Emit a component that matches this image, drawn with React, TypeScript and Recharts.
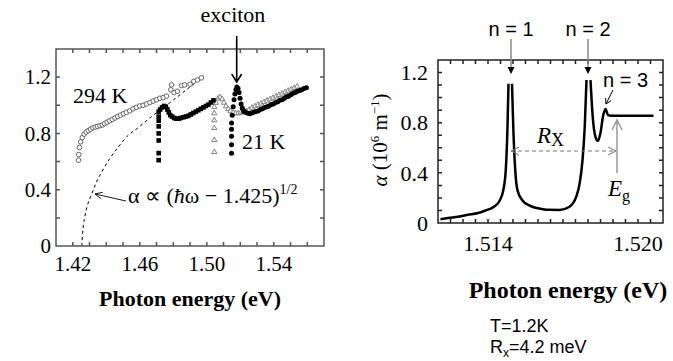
import React from 'react';
import { ComposedChart, LineChart, Line, Scatter, XAxis, YAxis } from 'recharts';

const serif = '"Liberation Serif", "Times New Roman", serif';
const sans = '"Liberation Sans", Arial, sans-serif';

// left panel: absorption of GaAs at several temperatures
const e294 = [1.4234, 1.4236, 1.424, 1.4247, 1.4257, 1.4268, 1.428, 1.4293, 1.4306, 1.432, 1.4334, 1.4348, 1.4362, 1.4376, 1.439, 1.4405, 1.442, 1.4436, 1.4452, 1.4468, 1.4485, 1.4502, 1.452, 1.454, 1.456, 1.458, 1.46, 1.462, 1.464, 1.466, 1.468, 1.47, 1.472, 1.474, 1.476, 1.4785, 1.479, 1.4805, 1.4825, 1.485, 1.4868, 1.49, 1.4922, 1.4945, 1.4968];
const a294 = [0.61, 0.65, 0.7, 0.74, 0.77, 0.795, 0.81, 0.82, 0.83, 0.84, 0.845, 0.85, 0.855, 0.86, 0.87, 0.88, 0.89, 0.9, 0.91, 0.92, 0.93, 0.94, 0.95, 0.96, 0.975, 0.985, 0.995, 1.0, 1.01, 1.02, 1.03, 1.04, 1.05, 1.055, 1.065, 1.11, 1.145, 1.09, 1.1, 1.14, 1.145, 1.15, 1.17, 1.18, 1.195];

const eSq = [1.4713, 1.4713, 1.4713, 1.4713, 1.4713, 1.4713, 1.4713, 1.4713, 1.4722, 1.4733, 1.4745, 1.4756, 1.4765, 1.4773, 1.4782, 1.4793, 1.4805, 1.4818, 1.4832, 1.4846, 1.486, 1.4875, 1.489, 1.4905, 1.492, 1.4935, 1.495, 1.4965, 1.498, 1.4995, 1.501, 1.5025, 1.504];
const aSq = [0.61, 0.66, 0.75, 0.8, 0.85, 0.89, 0.92, 0.955, 0.97, 0.985, 0.995, 0.99, 0.97, 0.95, 0.93, 0.92, 0.91, 0.905, 0.905, 0.91, 0.915, 0.92, 0.925, 0.935, 0.945, 0.955, 0.965, 0.975, 0.985, 0.995, 1.005, 1.02, 1.035];

const eTri = [1.5045, 1.5045, 1.5045, 1.5045, 1.5045, 1.5045, 1.5055, 1.5068, 1.508, 1.5092, 1.5103, 1.5115, 1.5128, 1.5142, 1.5157, 1.5172, 1.5188, 1.5203, 1.5218, 1.5235, 1.5252, 1.527, 1.5288, 1.5306, 1.5324, 1.5342, 1.536, 1.5378, 1.5396, 1.5414, 1.5432, 1.545, 1.5468, 1.5486, 1.5504, 1.5522, 1.554];
const aTri = [0.67, 0.755, 0.84, 0.895, 0.945, 0.99, 1.02, 1.05, 1.06, 1.045, 1.02, 0.995, 0.975, 0.96, 0.95, 0.945, 0.945, 0.95, 0.955, 0.96, 0.97, 0.985, 0.995, 1.005, 1.015, 1.025, 1.035, 1.045, 1.055, 1.065, 1.075, 1.085, 1.095, 1.105, 1.115, 1.125, 1.135];

const e21 = [1.5148, 1.5148, 1.5148, 1.5148, 1.5148, 1.5152, 1.5158, 1.5163, 1.5168, 1.5174, 1.518, 1.5187, 1.5193, 1.5199, 1.5205, 1.5212, 1.522, 1.523, 1.5242, 1.5255, 1.5268, 1.5281, 1.5294, 1.5307, 1.532, 1.5333, 1.5346, 1.5359, 1.5372, 1.5385, 1.5398, 1.5411, 1.5424, 1.5437, 1.545, 1.5463, 1.5476, 1.5489, 1.5502, 1.5515, 1.5528, 1.5541, 1.5554, 1.5567, 1.558, 1.5595];
const a21 = [0.66, 0.72, 0.78, 0.83, 0.875, 0.93, 0.99, 1.04, 1.08, 1.11, 1.13, 1.12, 1.09, 1.05, 1.01, 0.98, 0.96, 0.95, 0.945, 0.94, 0.945, 0.95, 0.955, 0.96, 0.97, 0.975, 0.985, 0.99, 0.995, 1.005, 1.01, 1.02, 1.025, 1.035, 1.04, 1.05, 1.06, 1.065, 1.075, 1.085, 1.09, 1.1, 1.105, 1.11, 1.12, 1.125];

// dashed square-root edge
const eFit = [1.4254, 1.4258, 1.4264, 1.4274, 1.4288, 1.431, 1.434, 1.4375, 1.442, 1.447, 1.4525, 1.459, 1.466, 1.4725, 1.4825, 1.491, 1.4985];
const aFit = [0, 0.08, 0.15, 0.22, 0.29, 0.36, 0.45, 0.53, 0.62, 0.7, 0.78, 0.84, 0.91, 0.97, 1.06, 1.14, 1.21];

const leftXTicks = [1.41, 1.42, 1.43, 1.44, 1.45, 1.46, 1.47, 1.48, 1.49, 1.5, 1.51, 1.52, 1.53, 1.54, 1.55, 1.56, 1.57];
const leftXLabels = [1.42, 1.46, 1.5, 1.54];
const leftYTicks = [0, 0.2, 0.4, 0.6, 0.8, 1.0, 1.2, 1.4];
const leftYLabels = [0, 0.4, 0.8, 1.2];

// right panel: T = 1.2 K exciton lines (null = off-scale peak top)
const eHi = [1.5121, 1.5124, 1.5128, 1.5132, 1.5136, 1.5139, 1.51424, 1.51447, 1.51461, 1.51471, 1.51478, 1.51482, 1.51489, 1.51496, 1.51501, 1.51509, 1.51518, 1.51538, 1.51565, 1.51619, 1.51646, 1.51686, 1.51726, 1.51753, 1.51767, 1.51778, 1.51787, 1.51794, 1.51802, 1.5181, 1.5182, 1.51831, 1.5184, 1.5185, 1.5186, 1.5187, 1.5188, 1.51894, 1.5195, 1.52, 1.52062];
const aHi = [0.03, 0.04, 0.05, 0.065, 0.08, 0.1, 0.13, 0.18, 0.26, 0.42, 0.77, 1.11, null, 1.11, 0.77, 0.42, 0.26, 0.18, 0.14, 0.11, 0.105, 0.104, 0.13, 0.21, 0.32, 0.5, 0.77, 1.14, null, 1.14, 0.82, 0.68, 0.655, 0.72, 0.85, 0.91, 0.86, 0.856, 0.855, 0.855, 0.855];

const rightXTicks = [1.512, 1.5125, 1.513, 1.5135, 1.514, 1.5145, 1.515, 1.5155, 1.516, 1.5165, 1.517, 1.5175, 1.518, 1.5185, 1.519, 1.5195, 1.52, 1.5205, 1.521];
const rightXLabels = [1.514, 1.52];
const rightYTicks = [0, 0.1, 0.2, 0.3, 0.4, 0.5, 0.6, 0.7, 0.8, 0.9, 1.0, 1.1, 1.2, 1.3];
const rightYLabels = [0, 0.4, 0.8, 1.2];

const pts = (e: number[], a: (number | null)[]) => e.map((x, i) => ({ e: x, a: a[i] }));
const has = (list: number[], v: number) => list.some((l) => Math.abs(l - v) < 1e-7);

const OpenCircle = (p: any) => <circle cx={p.cx} cy={p.cy} r={2.3} fill="#fff" stroke="#555" strokeWidth={0.9} />;
const FilledSquare = (p: any) => <rect x={p.cx - 2.3} y={p.cy - 2.3} width={4.6} height={4.6} fill="#000" />;
const OpenTriangle = (p: any) => (
  <path d={`M${p.cx},${p.cy - 2.8}L${p.cx + 2.6},${p.cy + 1.8}L${p.cx - 2.6},${p.cy + 1.8}Z`} fill="#fff" stroke="#666" strokeWidth={0.8} />
);
const FilledDot = (p: any) => <circle cx={p.cx} cy={p.cy} r={2.5} fill="#000" />;

const fmt = (v: number, digits: number) => (v === 0 ? '0' : v.toFixed(digits));

// tick labels; tickSize/tickMargin 0 so x/y sit on the axis line
const xLabel = (labels: number[], digits: number, size: number, gap: number) => (p: any) => {
  const v = p.payload.value;
  if (!has(labels, v)) return <g />;
  return <text x={p.x} y={p.y + gap} textAnchor="middle" fontFamily={serif} fontSize={size} fill="#000">{fmt(v, digits)}</text>;
};
const yLabel = (labels: number[], digits: number, size: number, gap: number) => (p: any) => {
  const v = p.payload.value;
  if (!has(labels, v)) return <g />;
  return <text x={p.x - gap} y={p.y} dy="0.35em" textAnchor="end" fontFamily={serif} fontSize={size} fill="#000">{fmt(v, digits)}</text>;
};

const bare = { tickSize: 0, tickMargin: 0, tickLine: false, axisLine: false, interval: 0 as const, allowDataOverflow: true };

// plot boxes in page px, for the frame and its inward tick marks
const boxL = { x: 56, y: 49, w: 268, h: 197, x0: 1.41, x1: 1.57, y1: 1.4 };
const boxR = { x: 438, y: 60, w: 225, h: 163, x0: 1.512, x1: 1.521, y1: 1.3 };

const framePath = (b: typeof boxL, xt: number[], yt: number[]) => {
  const px = (v: number) => (b.x + ((v - b.x0) / (b.x1 - b.x0)) * b.w).toFixed(1);
  const py = (v: number) => (b.y + b.h - (v / b.y1) * b.h).toFixed(1);
  let d = `M${b.x},${b.y}H${b.x + b.w}V${b.y + b.h}H${b.x}Z`;
  xt.forEach((v) => { d += `M${px(v)},${b.y + b.h}v-4M${px(v)},${b.y}v4`; });
  yt.forEach((v) => { d += `M${b.x},${py(v)}h4M${b.x + b.w},${py(v)}h-4`; });
  return d;
};

// axes are 10px thick; margins put the plot box where the reference has it
const LeftChart = () => (
  <ComposedChart width={340} height={361} margin={{ top: 39, right: 6, bottom: 105, left: 46 }}>
    <XAxis xAxisId="b" type="number" dataKey="e" domain={[1.41, 1.57]} ticks={leftXTicks} height={10} {...bare}
      tick={xLabel(leftXLabels, 2, 21, 25)} />
    <XAxis xAxisId="t" orientation="top" type="number" domain={[1.41, 1.57]} ticks={leftXTicks} height={10} {...bare} tick={false} />
    <YAxis yAxisId="l" type="number" dataKey="a" domain={[0, 1.4]} ticks={leftYTicks} width={10} {...bare}
      tick={yLabel(leftYLabels, 1, 21, 5)} />
    <YAxis yAxisId="r" orientation="right" type="number" domain={[0, 1.4]} ticks={leftYTicks} width={10} {...bare} tick={false} />
    <Line xAxisId="b" yAxisId="l" data={pts(eFit, aFit)} dataKey="a" type="monotone" stroke="#000"
      strokeWidth={1} strokeDasharray="3 3" dot={false} isAnimationActive={false} />
    <Scatter xAxisId="b" yAxisId="l" data={pts(e294, a294)} shape={OpenCircle} isAnimationActive={false} />
    <Scatter xAxisId="b" yAxisId="l" data={pts(eTri, aTri)} shape={OpenTriangle} isAnimationActive={false} />
    <Scatter xAxisId="b" yAxisId="l" data={pts(eSq, aSq)} shape={FilledSquare} isAnimationActive={false} />
    <Scatter xAxisId="b" yAxisId="l" data={pts(e21, a21)} shape={FilledDot} isAnimationActive={false} />
  </ComposedChart>
);

const RightChart = () => (
  <LineChart width={333} height={361} data={pts(eHi, aHi)} margin={{ top: 50, right: 0, bottom: 128, left: 88 }}>
    <XAxis xAxisId="b" type="number" dataKey="e" domain={[1.512, 1.521]} ticks={rightXTicks} height={10} {...bare}
      tick={xLabel(rightXLabels, 3, 22, 28)} />
    <XAxis xAxisId="t" orientation="top" type="number" domain={[1.512, 1.521]} ticks={rightXTicks} height={10} {...bare} tick={false} />
    <YAxis yAxisId="l" type="number" domain={[0, 1.3]} ticks={rightYTicks} width={10} {...bare}
      tick={yLabel(rightYLabels, 1, 22, 10)} />
    <YAxis yAxisId="r" orientation="right" type="number" domain={[0, 1.3]} ticks={rightYTicks} width={10} {...bare} tick={false} />
    <Line xAxisId="b" yAxisId="l" dataKey="a" type="monotone" stroke="#000" strokeWidth={2.5}
      dot={false} connectNulls={false} isAnimationActive={false} />
  </LineChart>
);

const Notes = () => (
  <svg width={673} height={361} style={{ position: 'absolute', left: 0, top: 0, pointerEvents: 'none' }}>
    <path d={framePath(boxL, leftXTicks, leftYTicks)} fill="none" stroke="#555" strokeWidth={1.5} />
    <path d={framePath(boxR, rightXTicks, rightYTicks)} fill="none" stroke="#222" strokeWidth={1.5} />
    <g fontFamily={serif} fill="#000">
      <text x={233} y={22} fontSize={22} textAnchor="middle">exciton</text>
      <text x={73} y={103} fontSize={22}>294 K</text>
      <text x={242} y={149} fontSize={22}>21 K</text>
      <text x={128} y={203} fontSize={22}>
        α ∝ (<tspan fontStyle="italic">ħ</tspan>ω − 1.425)<tspan fontSize={14} dy={-9}>1/2</tspan>
      </text>
      <text x={190} y={306} fontSize={22} fontWeight="bold" textAnchor="middle">Photon energy (eV)</text>
      <text x={568} y={298} fontSize={24} fontWeight="bold" textAnchor="middle">Photon energy (eV)</text>
      <text transform="translate(387,140) rotate(-90)" fontSize={21} textAnchor="middle">
        <tspan fontStyle="italic">α</tspan> (10<tspan fontSize={13} dy={-8}>6</tspan>
        <tspan dy={8}> m</tspan><tspan fontSize={13} dy={-8}>−1</tspan><tspan dy={8}>)</tspan>
      </text>
      <text x={537} y={143} fontSize={23} fontStyle="italic">R<tspan fontStyle="normal" fontSize={18} dy={3}>X</tspan></text>
      <text x={608} y={196} fontSize={23} fontStyle="italic">E<tspan fontStyle="normal" fontSize={16} dy={5}>g</tspan></text>
    </g>
    <g fontFamily={sans} fill="#000">
      <text x={511} y={36} fontSize={20} textAnchor="middle">n = 1</text>
      <text x={588} y={36} fontSize={20} textAnchor="middle">n = 2</text>
      <text x={603} y={87} fontSize={20}>n = 3</text>
      <text x={490} y={332} fontSize={18}>T=1.2K</text>
      <text x={490} y={353} fontSize={18}>R<tspan fontSize={12} dy={4}>x</tspan><tspan dy={-4}>=4.2 meV</tspan></text>
    </g>
    {/* exciton arrow */}
    <path d="M236.7,36 V81 M231.7,74 L236.7,82 L241.7,74" fill="none" stroke="#000" strokeWidth={1.6} />
    {/* fit arrow */}
    <path d="M126,201 L95,194 M101.3,198.9 L95,194 L102.8,192.3" fill="none" stroke="#000" strokeWidth={0.9} />
    {/* n arrows */}
    <path d="M511,39 V68 M588,39 V68" stroke="#888" strokeWidth={1.5} fill="none" />
    <path d="M507.5,67 L514.5,67 L511,74 Z M584.5,67 L591.5,67 L588,74 Z" fill="#000" />
    <path d="M613,90 L606,104 M611,100.7 L606,104 L605.6,98" fill="none" stroke="#000" strokeWidth={1} />
    {/* Rx */}
    <path d="M511,151 H616" stroke="#777" strokeWidth={1} strokeDasharray="4 3" fill="none" />
    <path d="M519,147 L511,151 L519,155 M608,147 L616,151 L608,155" fill="none" stroke="#777" strokeWidth={1} />
    {/* Eg */}
    <path d="M617,121 V173 M612,130 L617,120 L622,130" fill="none" stroke="#999" strokeWidth={1.5} />
  </svg>
);

const App = () => (
  <div style={{ position: 'absolute', left: 0, top: 0, width: 673, height: 361, background: '#fff' }}>
    <div style={{ position: 'absolute', left: 0, top: 0 }}>
      <LeftChart />
    </div>
    <div style={{ position: 'absolute', left: 340, top: 0 }}>
      <RightChart />
    </div>
    <Notes />
  </div>
);

export default App;
